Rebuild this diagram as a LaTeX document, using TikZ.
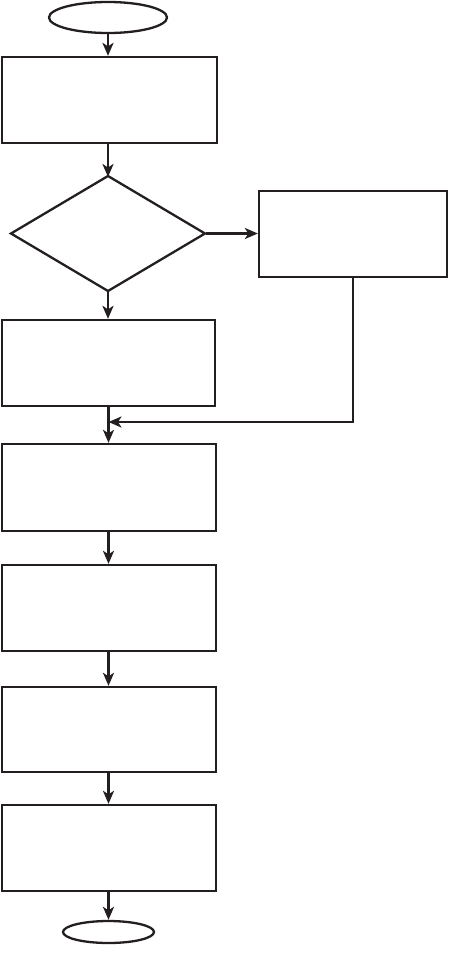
\documentclass[tikz,border=0pt]{standalone}
\usetikzlibrary{shapes.geometric,arrows.meta}
\definecolor{ink}{HTML}{231F20}
\begin{document}
\begin{tikzpicture}[x=1pt,y=-1pt,
  lw/.style={line width=2.3pt},
  box/.style={draw=ink,lw,rectangle,inner sep=0pt},
  term/.style={draw=ink,lw,ellipse,inner sep=0pt},
  decline/.style={draw=ink,lw,line join=miter},
  arr/.style={-{Stealth[length=13pt,width=11pt,inset=3.5pt]},lw,draw=ink},
  plain/.style={lw,draw=ink}]
\useasboundingbox (0,0) rectangle (450,954);
\node[term,minimum width=118pt,minimum height=31pt] (start) at (108,17.5) {};
\node[box,minimum width=215pt,minimum height=86pt] (b1) at (109.5,100) {};
\coordinate (dN) at (108,176);
\coordinate (dS) at (108,291);
\coordinate (dW) at (11,233.5);
\coordinate (dE) at (205,233.5);
\draw[decline] (dN) -- (dE) -- (dS) -- (dW) -- cycle;
\node[box,minimum width=188pt,minimum height=86pt] (r) at (353,234) {};
\node[box,minimum width=213pt,minimum height=86pt] (b2) at (108.5,363) {};
\node[box,minimum width=214pt,minimum height=87pt] (b3) at (109,487.5) {};
\node[box,minimum width=214pt,minimum height=86pt] (b4) at (109,608) {};
\node[box,minimum width=214pt,minimum height=85pt] (b5) at (109,729.5) {};
\node[box,minimum width=214pt,minimum height=86pt] (b6) at (109,848) {};
\node[term,minimum width=91pt,minimum height=22pt] (end) at (108.5,932) {};
\coordinate (m) at (108.5,422);
\draw[arr] (start.south) -- (start.south |- b1.north);
\draw[arr] (b1.south -| dN) -- ([yshift=-1pt]dN);
\draw[arr] ([xshift=1pt]dE) -- (r.west |- dE);
\draw[arr] ([yshift=1pt]dS) -- (dS |- b2.north);
\draw[plain] (b2.south -| m) -- (m);
\draw[arr] (m) -- (m |- b3.north);
\draw[arr] (r.south) |- (m);
\draw[arr] (b3.south -| m) -- (m |- b4.north);
\draw[arr] (b4.south -| m) -- (m |- b5.north);
\draw[arr] (b5.south -| m) -- (m |- b6.north);
\draw[arr] (b6.south -| end.north) -- (end.north);
\end{tikzpicture}
\end{document}
